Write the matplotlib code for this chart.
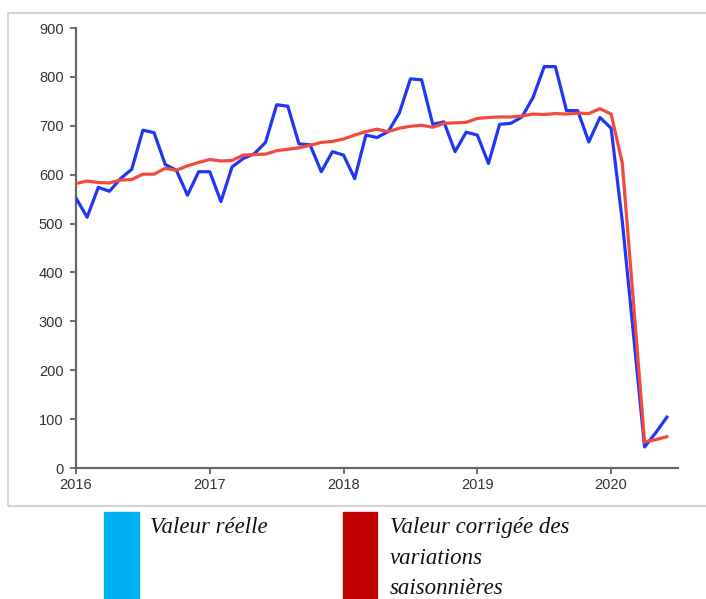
import matplotlib
matplotlib.use("Agg")
import matplotlib.pyplot as plt
from matplotlib.patches import Rectangle

# Monthly data, Jan 2016 .. Jun 2020
actual = [552, 513, 574, 566, 592, 611, 691, 686, 621, 609, 558, 606,
          606, 545, 616, 633, 643, 666, 743, 740, 663, 661, 606, 647,
          640, 592, 681, 676, 688, 726, 796, 794, 703, 708, 647, 687,
          681, 623, 703, 705, 718, 758, 821, 821, 731, 731, 667, 717,
          695, 505, 275, 43, 72, 104]
adjusted = [582, 587, 584, 583, 589, 590, 601, 601, 613, 609, 618, 625,
            631, 628, 629, 640, 641, 642, 649, 652, 655, 660, 666, 668,
            673, 681, 688, 693, 688, 695, 699, 701, 697, 705, 706, 707,
            715, 717, 718, 718, 720, 724, 723, 725, 724, 726, 725, 735,
            724, 624, 340, 53, 58, 64]
year_labels = ["2016", "2017", "2018", "2019", "2020"]
yticks = [0, 100, 200, 300, 400, 500, 600, 700, 800, 900]
legend_labels = ["Valeur réelle", "Valeur corrigée des\nvariations\nsaisonnières"]

W, H = 706, 599
fig = plt.figure(figsize=(W / 100, H / 100), dpi=100)

# outer light-gray frame
fig.patches.append(Rectangle((8 / W, 1 - 506 / H), 1.2, (506 - 13) / H,
                             transform=fig.transFigure, fill=False,
                             edgecolor="#d4d4d4", linewidth=1.5))

ax = fig.add_axes([76 / W, 1 - 468 / H, (678 - 76) / W, (468 - 28) / H])
months = list(range(len(actual)))
ax.plot(months, actual, color="#2236F5", lw=2.3, zorder=3)
ax.plot(months, adjusted, color="#F24A3C", lw=2.3, zorder=4)

ax.set_xlim(0, 54)
ax.set_ylim(0, 900)
ax.set_yticks(yticks)
ax.set_xticks([0, 12, 24, 36, 48])
ax.set_xticklabels(year_labels)
for s in ["top", "right"]:
    ax.spines[s].set_visible(False)
for s in ["left", "bottom"]:
    ax.spines[s].set_color("#666666")
    ax.spines[s].set_linewidth(1.6)
ax.tick_params(axis="both", colors="#555555", length=4, width=1.2,
               labelsize=10.5, labelcolor="#333333", pad=3)
ax.tick_params(axis="y", pad=5)
for lab in ax.get_xticklabels() + ax.get_yticklabels():
    lab.set_family("Liberation Sans")

# legend below
fig.patches.append(Rectangle((104 / W, 0), 35 / W, (599 - 512) / H,
                             transform=fig.transFigure, color="#00B0F0"))
fig.patches.append(Rectangle((343 / W, 0), 34 / W, (599 - 512) / H,
                             transform=fig.transFigure, color="#C00000"))
fig.text(150 / W, 1 - 517 / H, legend_labels[0], family="Liberation Serif",
         style="italic", fontsize=16.5, va="top", ha="left", color="#111111")
fig.text(390 / W, 1 - 517 / H, legend_labels[1], family="Liberation Serif",
         style="italic", fontsize=16.5, va="top", ha="left", color="#111111",
         linespacing=1.6)

fig.savefig("out.png", dpi=100)
